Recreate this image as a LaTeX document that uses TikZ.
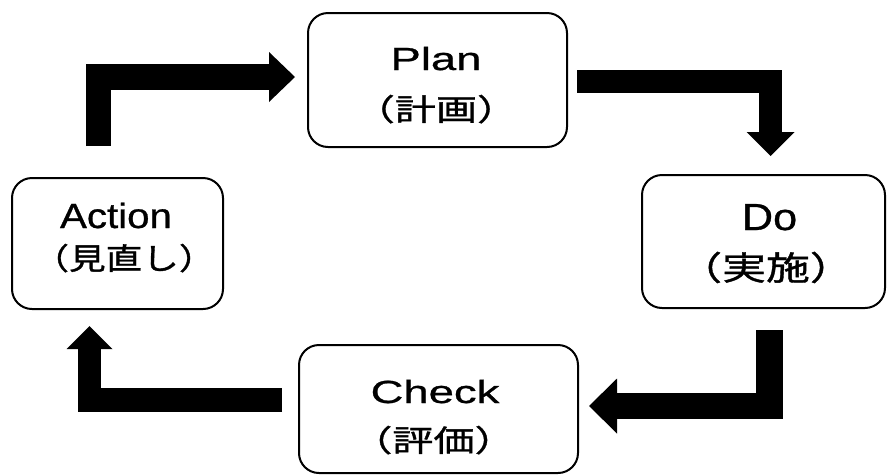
\documentclass[tikz,border=0pt]{standalone}
\usepackage{fontspec}
\newfontfamily\latP[FakeStretch=1.42,FakeBold=0.8]{Liberation Sans}
\newfontfamily\latD[FakeStretch=1.15,FakeBold=0.8]{Liberation Sans}
\newfontfamily\jpP[FakeStretch=1.37,FakeBold=1.1]{Noto Sans CJK JP}
\newfontfamily\jpD[FakeStretch=1.33,FakeBold=1.1]{Noto Sans CJK JP}
\newfontfamily\jpA[FakeStretch=1.22,FakeBold=1.1]{Noto Sans CJK JP}
\begin{document}
\begin{tikzpicture}[x=1pt,y=-1pt,
  box/.style={draw, line width=2pt, rounded corners=20pt, inner sep=0pt, fill=white},
  txt/.style={inner sep=0pt, anchor=base},
  shaft/.style={draw=black, line width=#1, line cap=butt, line join=miter},
  head/.style={fill=black}]
\useasboundingbox[fill=white] (0,0) rectangle (887,475);
% boxes
\node[box, minimum width=259pt, minimum height=134pt] (plan) at (437.5,80) {};
\node[box, minimum width=243pt, minimum height=133pt] (do) at (763.5,241.5) {};
\node[box, minimum width=279pt, minimum height=128pt] (check) at (438.5,409) {};
\node[box, minimum width=211pt, minimum height=131pt] (action) at (117.5,243.5) {};
% texts
\node[txt] (planL) at (436,70) {\latP\fontsize{32}{38}\selectfont Plan};
\node[txt] (planJ) at (436,120.5) {\jpP\fontsize{30}{36}\selectfont （計画）};
\node[txt] (doL) at (769.5,230) {\latD\fontsize{37.7}{44}\selectfont Do};
\node[txt] (doJ) at (766,280) {\jpD\fontsize{33}{40}\selectfont （実施）};
\node[txt] (checkL) at (435,403) {\latP\fontsize{32}{38}\selectfont Check};
\node[txt] (checkJ) at (433.5,451.5) {\jpP\fontsize{30}{36}\selectfont （評価）};
\node[txt] (actionL) at (116,228) {\latD\fontsize{35}{42}\selectfont Action};
\node[txt] (actionJ) at (124,269.5) {\jpA\fontsize{30}{36}\selectfont （見直し）};
% arrow coordinates
\coordinate (a1s) at (98.5,146);  \coordinate (a1b) at (270,77);    \coordinate (a1t) at (295,77);
\coordinate (a2s) at (577,81.5);  \coordinate (a2b) at (770.5,133); \coordinate (a2t) at (770.5,156);
\coordinate (a3s) at (769.5,330); \coordinate (a3b) at (616,406);   \coordinate (a3t) at (589,406);
\coordinate (a4s) at (282,400);   \coordinate (a4b) at (89.5,348);  \coordinate (a4t) at (89.5,326);
% Action -> Plan
\draw[shaft=25.5] (a1s) |- (a1b);
\fill[head] (a1t) -- ++(-26,-25) -- ++(0,50) -- cycle;
% Plan -> Do
\draw[shaft=23] (a2s) -| (a2b);
\fill[head] (a2t) -- ++(-24,-24) -- ++(48,0) -- cycle;
% Do -> Check
\draw[shaft=26.5] (a3s) |- (a3b);
\fill[head] (a3t) -- ++(28,-27.5) -- ++(0,55) -- cycle;
% Check -> Action
\draw[shaft=23.5] (a4s) -| (a4b);
\fill[head] (a4t) -- ++(-23,23) -- ++(46,0) -- cycle;
\end{tikzpicture}
\end{document}
